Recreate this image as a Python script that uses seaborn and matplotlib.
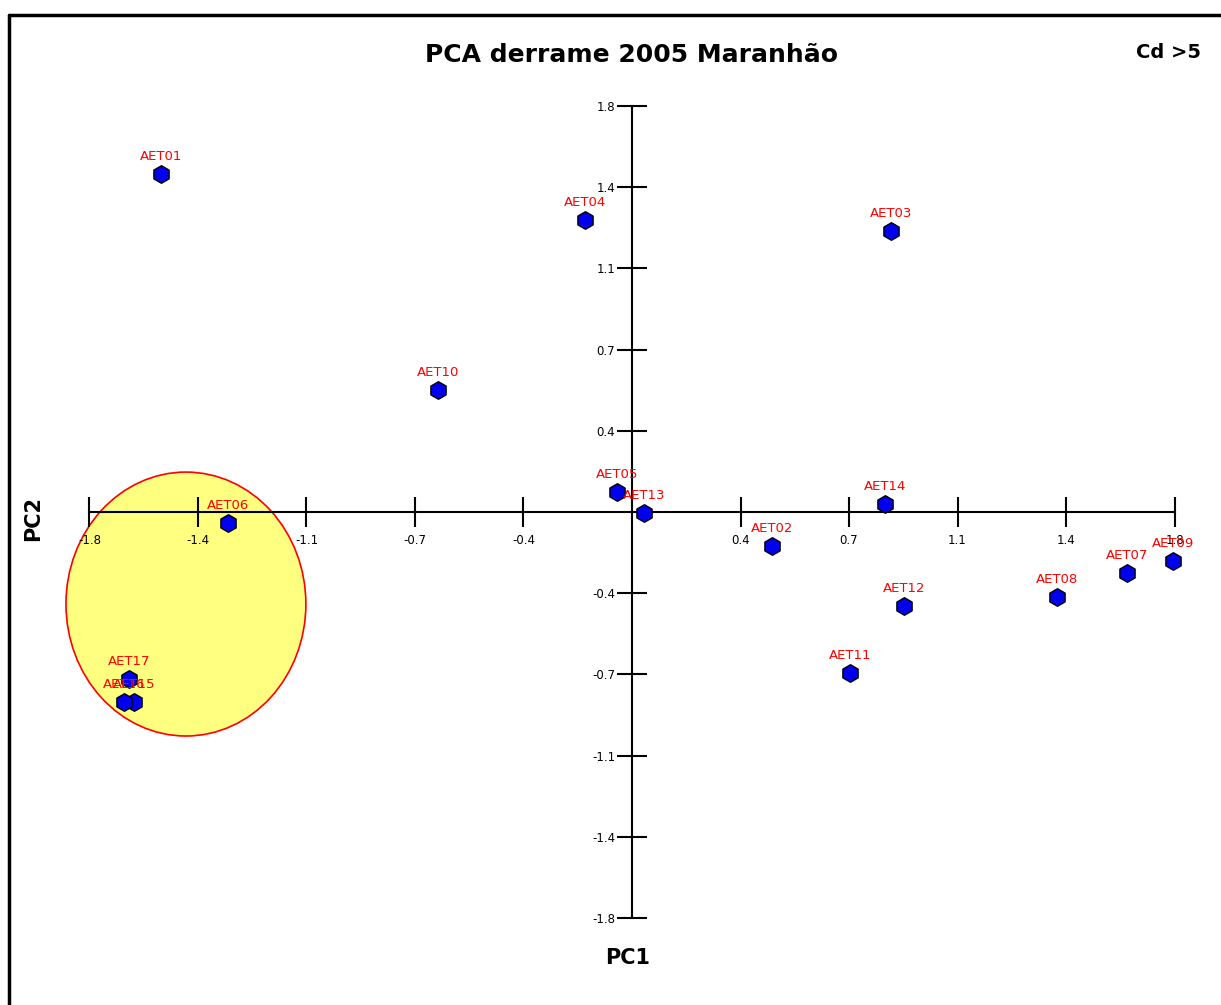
import matplotlib
matplotlib.use("Agg")
import matplotlib.pyplot as plt
import numpy as np
import pandas as pd
import seaborn as sns
from matplotlib.patches import Ellipse
from matplotlib.lines import Line2D

# sample scores
samples = ["AET01", "AET02", "AET03", "AET04", "AET05", "AET06", "AET07", "AET08", "AET09",
           "AET10", "AET11", "AET12", "AET13", "AET14", "AET15", "AET16", "AET17"]
pc1 = [-1.563, 0.464, 0.859, -0.156, -0.050, -1.340, 1.642, 1.410, 1.795,
       -0.644, 0.723, 0.902, 0.040, 0.839, -1.652, -1.685, -1.669]
pc2 = [1.498, -0.151, 1.246, 1.294, 0.089, -0.049, -0.270, -0.377, -0.217,
       0.541, -0.714, -0.417, -0.004, 0.035, -0.842, -0.842, -0.740]

tick_values = [-1.8, -1.44, -1.08, -0.72, -0.36, 0.36, 0.72, 1.08, 1.44, 1.8]
x_tick_labels = ["-1.8", "-1.4", "-1.1", "-0.7", "-0.4", "0.4", "0.7", "1.1", "1.4", "1.8"]
y_tick_labels = x_tick_labels

# highlighted group (ellipse)
group_center = (-1.48, -0.408)
group_size = (0.796, 1.17)

sns.set_style("white")
plt.rcParams['font.family'] = ['DejaVu Sans']
plt.rcParams['text.color'] = 'black'

df = pd.DataFrame({"sample": samples, "PC1": pc1, "PC2": pc2})

fig = plt.figure(figsize=(12.21, 10.05), dpi=100)
ax = fig.add_axes([0, 0, 1, 1])
ax.set_facecolor("none")
ax.set_axisbelow(False)

ax.add_patch(Ellipse(group_center, group_size[0], group_size[1],
                     facecolor="#ffff80", edgecolor="red", linewidth=1.2, zorder=1))

sns.scatterplot(data=df, x="PC1", y="PC2", ax=ax, marker="h", s=160,
                color="#0000ee", edgecolor="black", linewidth=1.0, zorder=4, legend=False)

for _, r in df.iterrows():
    ax.annotate(r["sample"], (r["PC1"], r["PC2"]), xytext=(0, 8), textcoords="offset points",
                ha="center", va="bottom", color="red", fontsize=9.5, zorder=5)

ax.set_xlim(-632 / 301.4, 589 / 301.4)
ax.set_ylim(-493 / 225.6, 512 / 225.6)

for side in ["top", "right"]:
    ax.spines[side].set_visible(False)
ax.spines["left"].set_position(("data", 0))
ax.spines["bottom"].set_position(("data", 0))
ax.spines["left"].set_bounds(-1.8, 1.8)
ax.spines["bottom"].set_bounds(-1.8, 1.8)
for side in ["left", "bottom"]:
    ax.spines[side].set_linewidth(1.5)
    ax.spines[side].set_color("black")
    ax.spines[side].set_zorder(2)

ax.set_xticks(tick_values)
ax.set_xticklabels(x_tick_labels)
ax.set_yticks(tick_values)
ax.set_yticklabels(y_tick_labels)
ax.tick_params(axis="both", bottom=True, left=True, direction="inout", length=22, width=1.5,
               labelsize=8.5, colors="black", labelcolor="black")
ax.tick_params(axis="x", pad=5)
ax.tick_params(axis="y", pad=1)
ax.set_xlabel("")
ax.set_ylabel("")

fig.text(632 / 1221, 1 - 55 / 1005, "PCA derrame 2005 Maranhão", ha="center", va="center",
         fontsize=18, fontweight="bold", color="black")
fig.text(1168 / 1221, 1 - 52 / 1005, "Cd >5", ha="center", va="center",
         fontsize=14, fontweight="bold", color="black")
fig.text(628 / 1221, 1 - 958 / 1005, "PC1", ha="center", va="center",
         fontsize=15, fontweight="bold", color="black")
fig.text(33 / 1221, 1 - 518 / 1005, "PC2", ha="center", va="center", rotation=90,
         fontsize=15, fontweight="bold", color="black")

# frame
fig.add_artist(Line2D([9 / 1221, 9 / 1221], [0, 1 - 15 / 1005], color="black", linewidth=2.5))
fig.add_artist(Line2D([9 / 1221, 1], [1 - 15 / 1005, 1 - 15 / 1005], color="black", linewidth=2.5))

fig.savefig("out.png", dpi=100)
